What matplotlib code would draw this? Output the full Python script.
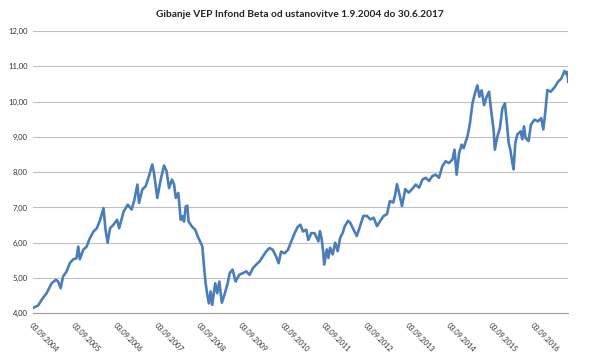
import matplotlib
matplotlib.use("Agg")
import matplotlib.pyplot as plt
import pandas as pd

# values
dates = [
    "2004-09-01", "2004-10-16", "2004-11-15", "2004-12-29", "2005-02-11", "2005-03-21",
    "2005-04-09", "2005-05-01", "2005-05-22", "2005-06-21", "2005-07-20", "2005-08-19",
    "2005-09-17", "2005-10-02", "2005-10-16", "2005-11-15", "2005-12-14", "2006-01-12",
    "2006-02-13", "2006-03-14", "2006-04-12", "2006-05-11", "2006-05-29", "2006-06-16",
    "2006-07-08", "2006-08-06", "2006-09-07", "2006-09-25", "2006-11-04", "2006-12-10",
    "2007-01-12", "2007-02-03", "2007-03-04", "2007-03-18", "2007-04-16", "2007-05-15",
    "2007-06-13", "2007-07-12", "2007-07-27", "2007-08-25", "2007-09-24", "2007-10-23",
    "2007-11-14", "2007-12-06", "2008-01-01", "2008-01-19", "2008-02-03", "2008-02-25",
    "2008-03-17", "2008-04-01", "2008-04-15", "2008-04-30", "2008-05-14", "2008-05-25",
    "2008-06-23", "2008-07-22", "2008-08-13", "2008-09-22", "2008-10-07", "2008-10-21",
    "2008-11-05", "2008-11-19", "2008-12-04", "2008-12-18", "2009-01-13", "2009-01-31",
    "2009-02-18", "2009-03-12", "2009-04-06", "2009-05-02", "2009-05-20", "2009-06-14",
    "2009-07-10", "2009-08-11", "2009-09-13", "2009-10-12", "2009-11-10", "2009-12-09",
    "2010-01-07", "2010-02-05", "2010-03-06", "2010-04-04", "2010-05-03", "2010-06-01",
    "2010-06-30", "2010-07-22", "2010-08-13", "2010-09-13", "2010-10-12", "2010-11-10",
    "2010-12-09", "2011-01-07", "2011-01-29", "2011-02-20", "2011-03-21", "2011-04-08",
    "2011-05-04", "2011-06-02", "2011-07-05", "2011-07-19", "2011-08-03", "2011-08-17",
    "2011-08-25", "2011-09-17", "2011-10-01", "2011-10-16", "2011-11-07", "2011-11-29",
    "2011-12-21", "2012-01-12", "2012-02-03", "2012-02-21", "2012-03-21", "2012-04-08",
    "2012-05-07", "2012-06-05", "2012-07-04", "2012-08-02", "2012-09-03", "2012-10-02",
    "2012-10-31", "2012-11-29", "2012-12-28", "2013-01-27", "2013-02-25", "2013-03-22",
    "2013-04-20", "2013-05-08", "2013-05-23", "2013-06-14", "2013-07-06", "2013-08-04",
    "2013-09-03", "2013-10-02", "2013-11-04", "2013-12-03", "2014-01-01", "2014-01-30",
    "2014-02-28", "2014-03-29", "2014-04-27", "2014-05-26", "2014-06-24", "2014-07-23",
    "2014-08-21", "2014-09-21", "2014-10-09", "2014-10-27", "2014-11-18", "2014-12-10",
    "2014-12-28", "2015-01-15", "2015-01-30", "2015-02-21", "2015-03-15", "2015-04-09",
    "2015-04-27", "2015-05-15", "2015-06-03", "2015-06-25", "2015-07-17", "2015-08-07",
    "2015-08-25", "2015-09-16", "2015-09-27", "2015-10-19", "2015-11-10", "2015-12-02",
    "2015-12-24", "2016-01-07", "2016-01-26", "2016-02-09", "2016-02-27", "2016-03-09",
    "2016-03-24", "2016-04-11", "2016-05-10", "2016-05-24", "2016-06-08", "2016-06-22",
    "2016-07-18", "2016-08-08", "2016-09-09", "2016-10-08", "2016-11-06", "2016-11-24",
    "2016-12-12", "2016-12-30", "2017-01-28", "2017-03-06", "2017-04-01", "2017-04-30",
    "2017-05-29", "2017-06-12", "2017-06-23", "2017-06-30",
]
values = [
    4.15, 4.22, 4.38, 4.57, 4.85, 4.95,
    4.90, 4.71, 5.04, 5.18, 5.42, 5.53,
    5.56, 5.89, 5.53, 5.80, 5.89, 6.13,
    6.32, 6.41, 6.65, 6.98, 6.37, 6.00,
    6.41, 6.51, 6.65, 6.41, 6.89, 7.08,
    6.94, 7.18, 7.65, 7.13, 7.51, 7.60,
    7.89, 8.22, 7.98, 7.27, 7.79, 8.19,
    8.03, 7.55, 7.79, 7.65, 7.27, 7.41,
    6.65, 6.75, 6.60, 7.03, 7.05, 6.60,
    6.46, 6.37, 6.18, 5.90, 5.33, 4.85,
    4.52, 4.28, 4.62, 4.24, 4.85, 4.57,
    4.90, 4.30, 4.55, 4.85, 5.14, 5.24,
    4.90, 5.09, 5.14, 5.19, 5.09, 5.28,
    5.38, 5.47, 5.61, 5.75, 5.85, 5.80,
    5.61, 5.42, 5.75, 5.70, 5.80, 6.04,
    6.27, 6.46, 6.51, 6.32, 6.37, 6.08,
    6.27, 6.27, 6.04, 6.33, 6.10, 5.72,
    5.38, 5.81, 5.57, 5.86, 5.67, 6.00,
    5.76, 6.14, 6.28, 6.47, 6.62, 6.57,
    6.38, 6.19, 6.47, 6.76, 6.76, 6.66,
    6.71, 6.47, 6.62, 6.76, 6.81, 7.18,
    7.14, 7.37, 7.66, 7.37, 7.04, 7.52,
    7.42, 7.52, 7.65, 7.56, 7.79, 7.84,
    7.75, 7.89, 7.93, 7.84, 8.17, 8.31,
    8.26, 8.36, 8.64, 7.93, 8.54, 8.78,
    8.68, 8.87, 9.01, 9.39, 9.95, 10.28,
    10.46, 10.14, 10.32, 9.90, 10.14, 10.28,
    9.76, 9.20, 8.64, 9.01, 9.25, 9.81,
    9.95, 9.49, 8.83, 8.64, 8.27, 8.08,
    8.83, 9.07, 9.16, 8.93, 9.30, 8.97,
    8.88, 9.35, 9.49, 9.44, 9.53, 9.21,
    9.72, 10.33, 10.28, 10.42, 10.56, 10.65,
    10.87, 10.78, 10.84, 10.56,
]
tick_dates = ["2004-09-03", "2005-09-03", "2006-09-03", "2007-09-03", "2008-09-03",
              "2009-09-03", "2010-09-03", "2011-09-03", "2012-09-03", "2013-09-03",
              "2014-09-03", "2015-09-03", "2016-09-03"]
tick_labels = ["03.09.2004", "03.09.2005", "03.09.2006", "03.09.2007", "03.09.2008",
               "03.09.2009", "03.09.2010", "03.09.2011", "03.09.2012", "03.09.2013",
               "03.09.2014", "03.09.2015", "03.09.2016"]
y_ticks = [4, 5, 6, 7, 8, 9, 10, 11, 12]
title = "Gibanje VEP Infond Beta od ustanovitve 1.9.2004 do 30.6.2017"

x = pd.to_datetime(dates)
plt.rcParams["font.family"] = ["Lato", "DejaVu Sans"]

fig = plt.figure(figsize=(6, 3.53), dpi=100)
ax = fig.add_axes([0.055, 0.1125, 0.892, 0.7995])

ax.plot(x, values, color="#4a7ebb", lw=1.9, solid_joinstyle="round")

ax.set_xlim(x[0], x[-1])
ax.set_ylim(4, 12)
ax.set_yticks(y_ticks)
ax.set_yticklabels([f"{v:.2f}".replace(".", ",") for v in y_ticks], fontsize=5.5, color="#333333")
ax.set_xticks(pd.to_datetime(tick_dates))
ax.set_xticklabels(tick_labels, rotation=-45, ha="left", va="top", rotation_mode="anchor",
                   fontsize=5.3, color="#333333")
ax.tick_params(length=0, pad=4)
ax.tick_params(axis="x", pad=6)

ax.grid(axis="y", color="#c0c0c0", lw=0.8)
ax.set_axisbelow(True)
for s in ["top", "right", "left"]:
    ax.spines[s].set_visible(False)
ax.spines["bottom"].set_color("#a0a0a0")
ax.spines["bottom"].set_linewidth(0.8)

fig.text(0.5, 0.96, title, ha="center", va="center", fontsize=7.3, fontweight="bold", color="#222222")

fig.savefig("out.png", dpi=100)
